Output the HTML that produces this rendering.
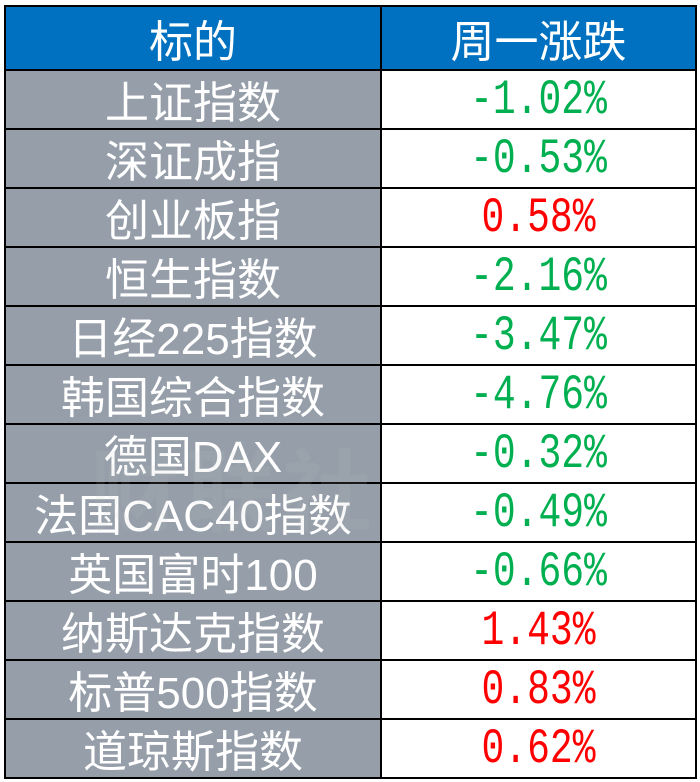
<!DOCTYPE html>
<html><head><meta charset="utf-8"><style>
body{margin:0;width:700px;height:782px;background:#fff;position:relative;overflow:hidden}
table{position:absolute;left:4px;top:5px;width:691px;border-collapse:collapse;table-layout:fixed}
td{border:2px solid #000;text-align:center;padding:0;overflow:hidden;white-space:nowrap}
.h td{background:#0070c0;color:#fff;height:62px;font:44px "Noto Sans CJK SC",sans-serif;line-height:62px}
.n{background:#959ea9;color:#fff;font:44px "Liberation Sans","Noto Sans CJK SC",sans-serif;height:57px;line-height:57px}
.n span{display:inline-block;position:relative;top:4px}
.v{height:57px;line-height:57px}
.v span{display:inline-block;font:38px "Liberation Mono",monospace;transform:translateY(6px) scaleY(1.3)}
.g{color:#00b050}.r{color:#ff0000}
.wm{position:absolute;left:90px;top:420px;font:bold 90px "Noto Sans CJK SC",sans-serif;color:rgba(200,200,200,0.12);letter-spacing:6px}
</style></head><body>
<table>
<colgroup><col style="width:376px"><col style="width:315px"></colgroup>
<tr class="h"><td>标的</td><td>周一涨跌</td></tr>
<tr><td class="n"><span>上证指数</span></td><td class="v g"><span>-1.02%</span></td></tr>
<tr><td class="n"><span>深证成指</span></td><td class="v g"><span>-0.53%</span></td></tr>
<tr><td class="n"><span>创业板指</span></td><td class="v r"><span>0.58%</span></td></tr>
<tr><td class="n"><span>恒生指数</span></td><td class="v g"><span>-2.16%</span></td></tr>
<tr><td class="n"><span>日经225指数</span></td><td class="v g"><span>-3.47%</span></td></tr>
<tr><td class="n"><span>韩国综合指数</span></td><td class="v g"><span>-4.76%</span></td></tr>
<tr><td class="n"><span>德国DAX</span></td><td class="v g"><span>-0.32%</span></td></tr>
<tr><td class="n"><span>法国CAC40指数</span></td><td class="v g"><span>-0.49%</span></td></tr>
<tr><td class="n"><span>英国富时100</span></td><td class="v g"><span>-0.66%</span></td></tr>
<tr><td class="n"><span>纳斯达克指数</span></td><td class="v r"><span>1.43%</span></td></tr>
<tr><td class="n"><span>标普500指数</span></td><td class="v r"><span>0.83%</span></td></tr>
<tr><td class="n"><span>道琼斯指数</span></td><td class="v r"><span>0.62%</span></td></tr>
</table>
<div class="wm">财联社</div>
</body></html>
